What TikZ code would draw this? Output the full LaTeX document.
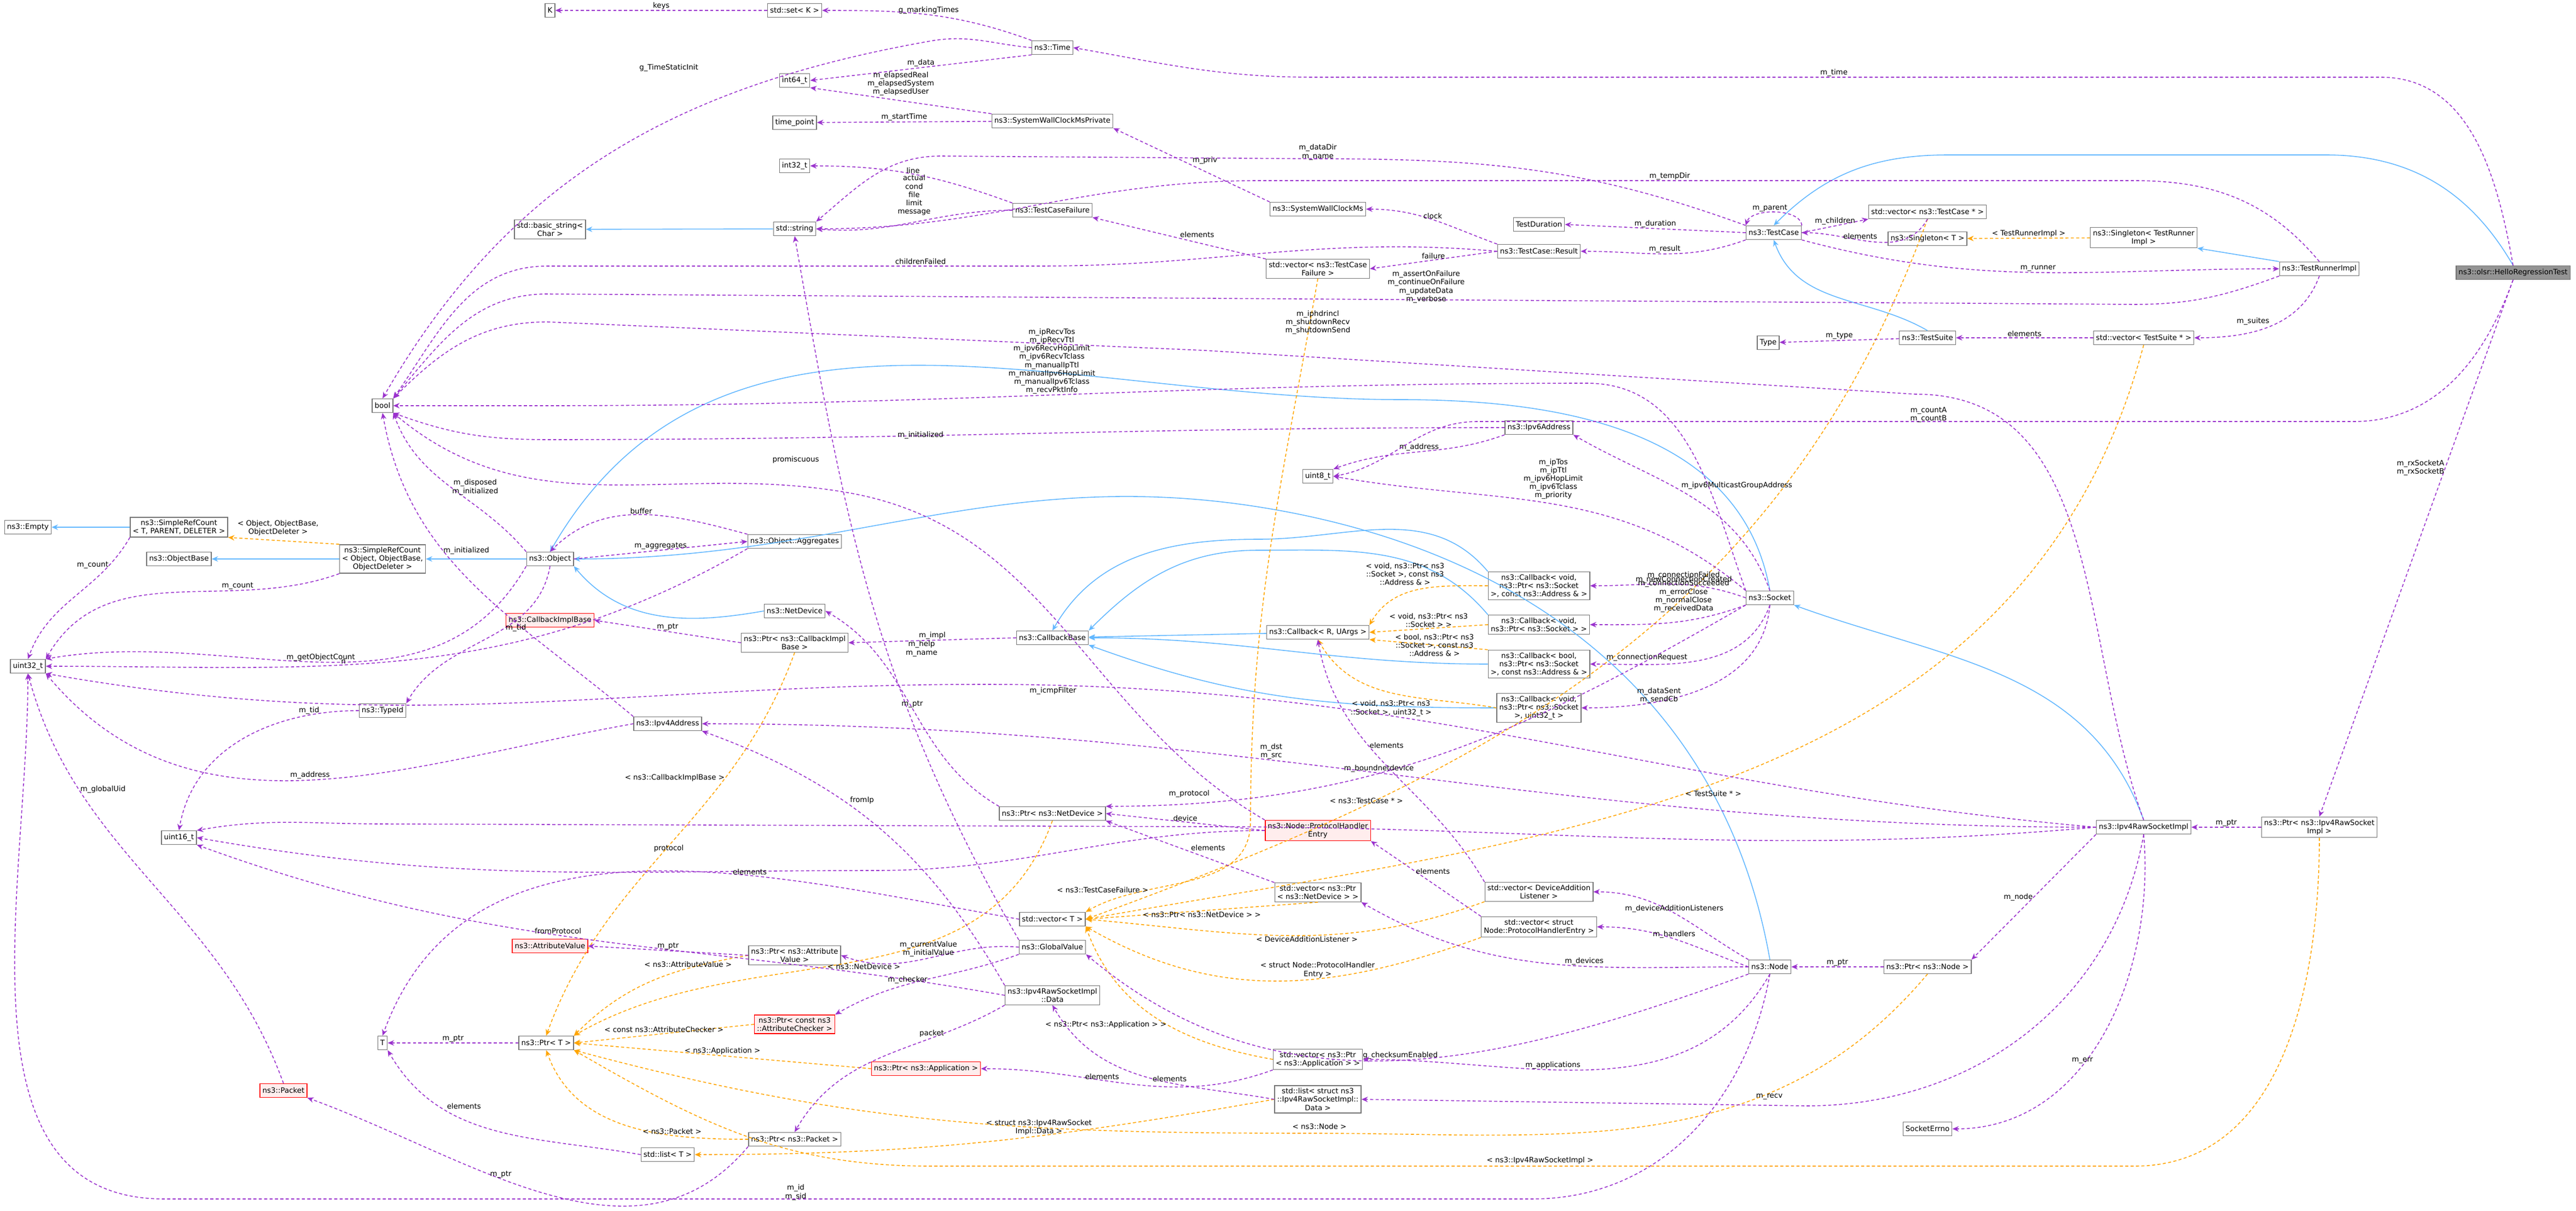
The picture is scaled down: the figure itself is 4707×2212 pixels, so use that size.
\documentclass[tikz,border=0pt]{standalone}
\usepackage{fontspec}
\setmainfont{DejaVu Sans}
\usetikzlibrary{arrows.meta}
\definecolor{puse}{HTML}{9A32CD}
\definecolor{binh}{HTML}{63B8FF}
\definecolor{otpl}{HTML}{FFA500}
\tikzset{
 box/.style={draw=black!55,fill=white,inner sep=1.3pt,minimum height=0.25cm,align=center,font=\fontsize{3.8}{4.3}\selectfont},
 redbox/.style={box,draw=red,fill=red!7},
 lbl/.style={inner sep=0.3pt,align=center,font=\fontsize{3.8}{4.3}\selectfont},
 use/.style={draw=puse,line width=0.45pt,dash pattern=on 1.6pt off 1.2pt,-{Stealth[length=3.3pt,width=2.8pt]}},
 inh/.style={draw=binh,line width=0.45pt,-{Stealth[length=3.3pt,width=2.8pt]}},
 tpl/.style={draw=otpl,line width=0.45pt,dash pattern=on 1.6pt off 1.2pt,-{Stealth[length=3.3pt,width=2.8pt]}}
}
\begin{document}
\begin{tikzpicture}[x=0.01cm,y=-0.01cm]
\useasboundingbox[fill=white] (0,0) rectangle (4707,2212);
% nodes
\node[box] (K) at (1005,19) {K};
\node[box] (setK) at (1452,19) {std::set< K >};
\node[box] (int64) at (1452,147) {int64\_t};
\node[box] (timept) at (1452,224) {time\_point};
\node[box] (int32) at (1452,303) {int32\_t};
\node[box] (bstr) at (1005,419) {std::basic\_string<\\Char >};
\node[box] (str) at (1452,418) {std::string};
\node[box] (bool) at (699,741) {bool};
\node[box] (empty) at (51,963) {ns3::Empty};
\node[box] (srcT) at (327,963) {ns3::SimpleRefCount\\< T, PARENT, DELETER >};
\node[box] (obase) at (327,1021) {ns3::ObjectBase};
\node[box] (srcO) at (699,1021) {ns3::SimpleRefCount\\< Object, ObjectBase,\\ObjectDeleter >};
\node[box] (obj) at (1005,1021) {ns3::Object};
\node[box] (aggr) at (1452,989) {ns3::Object::Aggregates};
\node[box] (time) at (1923,87) {ns3::Time};
\node[box] (swcp) at (1923,221) {ns3::SystemWallClockMsPrivate};
\node[box] (tcf) at (1923,384) {ns3::TestCaseFailure};
\node[box] (swc) at (2408,382) {ns3::SystemWallClockMs};
\node[box] (tdur) at (2812,410) {TestDuration};
\node[box] (tcres) at (2812,459) {ns3::TestCase::Result};
\node[box] (vtcf) at (2408,491) {std::vector< ns3::TestCase\\Failure >};
\node[box] (ipv6) at (2812,781) {ns3::Ipv6Address};
\node[box] (u8) at (2408,870) {uint8\_t};
\node[box] (cbA) at (2812,1070) {ns3::Callback< void,\\ns3::Ptr< ns3::Socket\\>, const ns3::Address \& >};
\node[box] (tc) at (3241,425) {ns3::TestCase};
\node[box] (vtc) at (3522,387) {std::vector< ns3::TestCase * >};
\node[box] (sgT) at (3522,436) {ns3::Singleton< T >};
\node[box] (sgR) at (3917,434) {ns3::Singleton< TestRunner\\Impl >};
\node[box] (tri) at (4238,491) {ns3::TestRunnerImpl};
\node[box,fill=black!42] (hello) at (4592,498) {ns3::olsr::HelloRegressionTest};
\node[box] (type) at (3231,626) {Type};
\node[box] (ts) at (3522,617) {ns3::TestSuite};
\node[box] (vts) at (3917,617) {std::vector< TestSuite * >};
\node[box] (sock) at (3234,1092) {ns3::Socket};
\node[box] (netdev) at (1452,1116) {ns3::NetDevice};
\node[redbox] (cib) at (1005,1133) {ns3::CallbackImplBase};
\node[box] (pcib) at (1452,1174) {ns3::Ptr< ns3::CallbackImpl\\Base >};
\node[box] (u32) at (51,1217) {uint32\_t};
\node[box] (tid) at (699,1298) {ns3::TypeId};
\node[box] (ipv4) at (1220,1322) {ns3::Ipv4Address};
\node[box] (u16) at (327,1530) {uint16\_t};
\node[redbox] (av) at (1005,1728) {ns3::AttributeValue};
\node[box] (pav) at (1452,1745) {ns3::Ptr< ns3::Attribute\\Value >};
\node[redbox] (pac) at (1452,1871) {ns3::Ptr< const ns3\\::AttributeChecker >};
\node[box] (T) at (699,1905) {T};
\node[box] (pT) at (998,1905) {ns3::Ptr< T >};
\node[redbox] (pkt) at (518,1992) {ns3::Packet};
\node[box] (ppkt) at (1452,2081) {ns3::Ptr< ns3::Packet >};
\node[box] (listT) at (1220,2109) {std::list< T >};
\node[box] (cbb) at (1923,1165) {ns3::CallbackBase};
\node[box] (cbR) at (2408,1155) {ns3::Callback< R, UArgs >};
\node[box] (cbB) at (2812,1141) {ns3::Callback< void,\\ns3::Ptr< ns3::Socket > >};
\node[box] (cbC) at (2812,1213) {ns3::Callback< bool,\\ns3::Ptr< ns3::Socket\\>, const ns3::Address \& >};
\node[box] (cbD) at (2812,1293) {ns3::Callback< void,\\ns3::Ptr< ns3::Socket\\>, uint32\_t >};
\node[box] (pnd) at (1923,1486) {ns3::Ptr< ns3::NetDevice >};
\node[redbox] (phe) at (2408,1517) {ns3::Node::ProtocolHandler\\Entry};
\node[box] (vpnd) at (2408,1630) {std::vector< ns3::Ptr\\< ns3::NetDevice > >};
\node[box] (vdal) at (2812,1629) {std::vector< DeviceAddition\\Listener >};
\node[box] (vT) at (1923,1679) {std::vector< T >};
\node[box] (vphe) at (2812,1693) {std::vector< struct\\Node::ProtocolHandlerEntry >};
\node[box] (gv) at (1923,1730) {ns3::GlobalValue};
\node[box] (data) at (1923,1818) {ns3::Ipv4RawSocketImpl\\::Data};
\node[box] (vpapp) at (2408,1935) {std::vector< ns3::Ptr\\< ns3::Application > >};
\node[redbox] (papp) at (1692,1952) {ns3::Ptr< ns3::Application >};
\node[box] (ldata) at (2408,2008) {std::list< struct ns3\\::Ipv4RawSocketImpl::\\Data >};
\node[box] (rsi) at (3917,1511) {ns3::Ipv4RawSocketImpl};
\node[box] (prsi) at (4238,1511) {ns3::Ptr< ns3::Ipv4RawSocket\\Impl >};
\node[box] (node) at (3234,1766) {ns3::Node};
\node[box] (pnode) at (3522,1766) {ns3::Ptr< ns3::Node >};
\node[box] (serr) at (3522,2062) {SocketErrno};

% inheritance
\draw[inh] (str) -- (bstr);
\draw[inh] (srcT) -- (empty);
\draw[inh] (srcO) -- (obase);
\draw[inh] (obj) -- (srcO);
\draw[inh] (netdev.west) to[out=190,in=-50] (obj.south east);
\draw[inh] (sock.north) to[out=100,in=0] (2560,730) to[out=180,in=60] (obj.north);
\draw[inh] (node.north) to[out=100,in=-10] (2330,931) to[out=170,in=0] (obj.east);
\draw[inh] (hello.north) to[out=120,in=0] (4250,283) -- (3560,283) to[out=180,in=45] (tc.north);
\draw[inh] (ts.north) to[out=150,in=-70] (tc.south);
\draw[inh] (tri.north west) -- (sgR.south east);
\draw[inh] (cbR) -- (cbb);
\draw[inh] (cbA.north west) to[out=130,in=0] (2300,985) to[out=180,in=60] (cbb.north);
\draw[inh] (cbB.north west) to[out=130,in=0] (2300,1005) to[out=180,in=45] (cbb.north east);
\draw[inh] (cbC.west) to[out=180,in=0] (cbb.east);
\draw[inh] (cbD.west) to[out=180,in=-20] (cbb.south east);
\draw[inh] (rsi.north) to[out=110,in=-20] (sock.south east);

% template instantiation
\draw[tpl] (srcO.north west) -- node[lbl,pos=0.55,above=2pt]{< Object, ObjectBase,\\ObjectDeleter >} (srcT.south east);
\draw[tpl] (sgR) -- node[lbl,above]{< TestRunnerImpl >} (sgT);
\draw[tpl] (cbA.west) to[out=180,in=60] node[lbl,pos=0.3,above left]{< void, ns3::Ptr< ns3\\::Socket >, const ns3\\::Address \& >} (cbR.north east);
\draw[tpl] (cbB.west) -- node[lbl,above]{< void, ns3::Ptr< ns3\\::Socket > >} (cbR.east);
\draw[tpl] (cbC.north west) -- node[lbl,pos=0.45]{< bool, ns3::Ptr< ns3\\::Socket >, const ns3\\::Address \& >} (cbR.south east);
\draw[tpl] (cbD.west) to[out=170,in=-60] node[lbl,pos=0.3,below left]{< void, ns3::Ptr< ns3\\::Socket >, uint32\_t >} (cbR.south);
\draw[tpl] (pcib.south) to[out=-110,in=70] node[lbl,pos=0.3,left]{< ns3::CallbackImplBase >} (pT.north);
\draw[tpl] (pav.west) to[out=190,in=45] node[lbl,pos=0.3,above]{< ns3::AttributeValue >} (pT.north east);
\draw[tpl] (pnd.south) to[out=-110,in=30] node[lbl,pos=0.55,right]{< ns3::NetDevice >} (pT.north east);
\draw[tpl] (pac.west) -- node[lbl,above]{< const ns3::AttributeChecker >} (pT.east);
\draw[tpl] (papp.west) -- node[lbl,above]{< ns3::Application >} (pT.east);
\draw[tpl] (ppkt.west) to[out=180,in=-70] node[lbl,pos=0.3,above]{< ns3::Packet >} (pT.south);
\draw[tpl] (pnode.south) to[out=-130,in=0] (2400,2070) to[out=180,in=-15] (pT.south east);
\node[lbl] (l_nodeT) at (2411,2058) {< ns3::Node >};
\draw[tpl] (prsi.south) to[out=-90,in=0] (3900,2130) -- (1700,2130) to[out=180,in=-30] (pT.south east);
\node[lbl] (l_rsiT) at (2814,2120) {< ns3::Ipv4RawSocketImpl >};
\draw[tpl] (ldata.west) to[out=190,in=0] node[lbl,pos=0.4,above]{< struct ns3::Ipv4RawSocket\\Impl::Data >} (listT.east);
\draw[tpl] (vtcf.south) to[out=-100,in=90] (2285,1500) to[out=-90,in=30] node[lbl,pos=0.7,left]{< ns3::TestCaseFailure >} (vT.north east);
\draw[tpl] (vtc.south) to[out=-110,in=20] node[lbl,pos=0.75,above]{< ns3::TestCase * >} (vT.east);
\draw[tpl] (vts.south) to[out=-105,in=10] node[lbl,pos=0.55,right]{< TestSuite * >} (vT.east);
\draw[tpl] (vpnd.south) -- node[lbl,below]{< ns3::Ptr< ns3::NetDevice > >} (vT.east);
\draw[tpl] (vdal.south west) to[out=200,in=-5] node[lbl,pos=0.45,below]{< DeviceAdditionListener >} (vT.east);
\draw[tpl] (vphe.south west) to[out=200,in=-30] node[lbl,pos=0.4,above]{< struct Node::ProtocolHandler\\Entry >} (vT.south east);
\draw[tpl] (vpapp.west) to[out=170,in=-70] node[lbl,pos=0.45,left]{< ns3::Ptr< ns3::Application > >} (vT.south east);

% usage
\draw[use] (setK) -- node[lbl,above]{keys} (K);
\draw[use] (time.north west) to[out=160,in=0] node[lbl,above]{g\_markingTimes} (setK.east);
\draw[use] (time.west) to[out=175,in=10] (1700,75) to[out=190,in=60] (bool.north);
\node[lbl] (l_gts) at (1222,124) {g\_TimeStaticInit};
\draw[use] (time.south west) -- node[lbl,above]{m\_data} (int64.east);
\draw[use] (swcp.north west) -- node[lbl,pos=0.5,above=2pt]{m\_elapsedReal\\m\_elapsedSystem\\m\_elapsedUser} (int64.south east);
\draw[use] (swcp) -- node[lbl,above]{m\_startTime} (timept);
\draw[use] (swc.north west) -- node[lbl,above right]{m\_priv} (swcp.south east);
\draw[use] (tcf.north west) to[out=160,in=0] node[lbl,pos=0.5,above]{line} (int32.east);
\draw[use] (tcf.west) to[out=180,in=-5] node[lbl,pos=0.5,above=3pt]{actual\\cond\\file\\limit\\message} (str.east);
\draw[use] (tc.north west) to[out=160,in=0] (2400,290) -- (1720,285) to[out=180,in=40] (str.north east);
\node[lbl] (l_dd) at (2408,278) {m\_dataDir\\m\_name};
\draw[use] (tri.north) to[out=130,in=0] (3900,330) -- (2300,330) to[out=180,in=0] (str.east);
\node[lbl] (l_td) at (3051,322) {m\_tempDir};
\draw[use] (vtcf.north west) -- node[lbl,above right]{elements} (tcf.south east);
\draw[use] (tcres.north west) to[out=160,in=0] node[lbl,above]{clock} (swc.east);
\draw[use] (tcres.west) -- node[lbl,above]{failure} (vtcf.east);
\draw[use] (tcres.west) to[out=175,in=0] (1900,486) -- (1000,486) to[out=180,in=55] (bool.north east);
\node[lbl] (l_cf) at (1682,478) {childrenFailed};
\draw[use] (tc.west) -- node[lbl,above]{m\_duration} (tdur.east);
\draw[use] (tc.south west) to[out=200,in=0] node[lbl,above]{m\_result} (tcres.east);
\draw[use] (tc.north east) .. controls (3290,380) and (3200,380) .. (tc.north west);
\node[lbl] (l_par) at (3234,380) {m\_parent};
\draw[use] (tc.east) -- node[lbl,above]{m\_children} (vtc.south west);
\draw[use] (vtc.south) to[out=-120,in=0] node[lbl,pos=0.6,above]{elements} (tc.east);
\draw[use] (tc.south east) to[out=-15,in=180] node[lbl,above]{m\_runner} (tri.west);
\draw[use] (tri.south west) to[out=200,in=0] (3900,556) -- (1000,537) to[out=180,in=50] (bool.north east);
\node[lbl] (l_aof) at (2606,524) {m\_assertOnFailure\\m\_continueOnFailure\\m\_updateData\\m\_verbose};
\draw[use] (tri.south) to[out=-110,in=0] node[lbl,above left]{m\_suites} (vts.east);
\draw[use] (vts) -- node[lbl,above]{elements} (ts);
\draw[use] (ts) -- node[lbl,above]{m\_type} (type);
\draw[use] (rsi.north) to[out=110,in=0] (3500,720) -- (2200,640) -- (1000,588) to[out=180,in=45] (bool.north east);
\node[lbl] (l_iph) at (2408,589) {m\_iphdrincl\\m\_shutdownRecv\\m\_shutdownSend};
\draw[use] (sock.north west) to[out=110,in=0] (2900,700) to[out=180,in=0] (1000,741) -- (bool.east);
\node[lbl] (l_rtos) at (1922,660) {m\_ipRecvTos\\m\_ipRecvTtl\\m\_ipv6RecvHopLimit\\m\_ipv6RecvTclass\\m\_manualIpTtl\\m\_manualIpv6HopLimit\\m\_manualIpv6Tclass\\m\_recvPktInfo};
\draw[use] (ipv6.west) to[out=180,in=0] (1000,803) to[out=180,in=-20] (bool.south east);
\node[lbl] (l_i6i) at (1682,795) {m\_initialized};
\draw[use] (ipv6.south west) to[out=200,in=20] node[lbl,above]{m\_address} (u8.north east);
\draw[use] (hello.south) to[out=-110,in=0] (4300,770) -- (2700,770) to[out=180,in=10] (u8.east);
\node[lbl] (l_cnt) at (3524,758) {m\_countA\\m\_countB};
\draw[use] (sock.north) to[out=110,in=-30] node[lbl,pos=0.55,above right]{m\_ipv6MulticastGroupAddress} (ipv6.south east);
\draw[use] (sock.north west) to[out=140,in=-10] node[lbl,pos=0.5,above=2pt]{m\_ipTos\\m\_ipTtl\\m\_ipv6HopLimit\\m\_ipv6Tclass\\m\_priority} (u8.east);
\draw[use] (hello.north) to[out=100,in=0] (4350,141) -- (2400,141) to[out=180,in=-10] (time.east);
\node[lbl] (l_time) at (3351,133) {m\_time};
\draw[use] (sock.west) to[out=160,in=0] node[lbl,pos=0.4,above]{m\_newConnectionCreated} (cbA.east);
\draw[use] (sock.south west) to[out=200,in=0] node[lbl,pos=0.4,above=4pt]{m\_connectionFailed\\m\_connectionSucceeded\\m\_errorClose\\m\_normalClose\\m\_receivedData} (cbB.east);
\draw[use] (sock.south) to[out=-110,in=0] node[lbl,pos=0.55,above left]{m\_connectionRequest} (cbC.east);
\draw[use] (sock.south) to[out=-95,in=0] node[lbl,pos=0.6,left]{m\_dataSent\\m\_sendCb} (cbD.east);
\draw[use] (obj.north west) to[out=130,in=-70] node[lbl,pos=0.5,right]{m\_disposed\\m\_initialized} (bool.south east);
\draw[use] (ipv4.north west) to[out=140,in=-80] (bool.south);
\node[lbl] (l_v4i) at (852,1006) {m\_initialized};
\draw[use] (obj.east) -- node[lbl,above]{m\_aggregates} (aggr.west);
\draw[use] (aggr.north west) to[out=165,in=45] node[lbl,above]{buffer} (obj.north);
\draw[use] (srcT.south west) to[out=-120,in=70] node[lbl,pos=0.2,left]{m\_count} (u32.north);
\draw[use] (srcO.south west) to[out=200,in=60] node[lbl,pos=0.3,above]{m\_count} (u32.north east);
\draw[use] (phe.north west) to[out=150,in=-10] (1550,900) to[out=170,in=-40] (bool.south east);
\node[lbl] (l_prom) at (1454,840) {promiscuous};
\draw[use] (obj.south west) to[out=-120,in=10] node[lbl,pos=0.5,above]{m\_getObjectCount} (u32.north east);
\draw[use] (aggr.south west) to[out=-150,in=0] node[lbl,pos=0.6,above]{n} (u32.east);
\draw[use] (obj.south) to[out=-100,in=60] node[lbl,pos=0.4,right]{m\_tid} (tid.north east);
\draw[use] (tid.west) to[out=180,in=80] node[lbl,pos=0.2,above]{m\_tid} (u16.north);
\draw[use] (rsi.west) to[out=175,in=0] (1800,1250) to[out=180,in=-10] (u32.south east);
\node[lbl] (l_icmp) at (1924,1262) {m\_icmpFilter};
\draw[use] (ipv4.west) to[out=190,in=-50] node[lbl,pos=0.5,above]{m\_address} (u32.south east);
\draw[use] (pkt.north) to[out=110,in=-75] node[lbl,pos=0.75,right]{m\_globalUid} (u32.south);
\draw[use] (node.south) to[out=-100,in=0] (2800,2190) -- (300,2190) to[out=180,in=-90] (u32.south);
\node[lbl] (l_id) at (1454,2178) {m\_id\\m\_sid};
\draw[use] (pcib.west) -- node[lbl,above]{m\_ptr} (cib.east);
\draw[use] (cbb.west) -- node[lbl,above]{m\_impl} (pcib.east);
\draw[use] (rsi.west) to[out=180,in=0] node[lbl,pos=0.6,above]{m\_dst\\m\_src} (ipv4.east);
\draw[use] (data.north west) to[out=120,in=-20] node[lbl,pos=0.6,above right]{fromIp} (ipv4.south east);
\draw[use] (phe.west) to[out=180,in=0] (1600,1590) to[out=180,in=-10] (u16.east);
\node[lbl] (l_prot) at (1222,1550) {protocol};
\draw[use] (rsi.west) to[out=185,in=0] (2200,1510) -- (700,1505) to[out=180,in=10] (u16.north east);
\node[lbl] (l_mprot) at (2173,1450) {m\_protocol};
\draw[use] (data.west) to[out=170,in=-20] node[lbl,pos=0.55,above]{fromProtocol} (u16.south east);
\draw[use] (vT.west) to[out=170,in=70] node[lbl,pos=0.35,above]{elements} (T.north);
\draw[use] (pav.west) -- node[lbl,above]{m\_ptr} (av.east);
\draw[use] (gv.west) to[out=175,in=-20] node[lbl,pos=0.5,above]{m\_currentValue\\m\_initialValue} (pav.east);
\draw[use] (gv.south west) to[out=200,in=30] node[lbl,pos=0.6,above]{m\_checker} (pac.north east);
\draw[use] (gv.north west) to[out=120,in=-80] (str.south);
\node[lbl] (l_help) at (1684,1185) {m\_help\\m\_name};
\draw[use] (pT) -- node[lbl,above]{m\_ptr} (T);
\draw[use] (listT.west) to[out=170,in=-60] node[lbl,pos=0.7,above right]{elements} (T.south east);
\draw[use] (ppkt.south west) to[out=-130,in=-20] node[lbl,pos=0.6,above]{m\_ptr} (pkt.south east);
\draw[use] (data.south west) to[out=-150,in=60] node[lbl,pos=0.3,above]{packet} (ppkt.north);
\draw[use] (pnd.north west) to[out=150,in=-30] node[lbl,pos=0.5,above]{m\_ptr} (netdev.east);
\draw[use] (phe.west) -- node[lbl,above]{device} (pnd.east);
\draw[use] (sock.south west) to[out=-150,in=0] node[lbl,pos=0.6,above]{m\_boundnetdevice} (pnd.north east);
\draw[use] (vpnd.north west) -- node[lbl,above right]{elements} (pnd.south east);
\draw[use] (vphe.north west) -- node[lbl,pos=0.6,right]{elements} (phe.south east);
\draw[use] (vdal.north west) to[out=120,in=-80] node[lbl,pos=0.6,right]{elements} (cbR.south);
\draw[use] (node.north west) to[out=150,in=0] node[lbl,above]{m\_deviceAdditionListeners} (vdal.east);
\draw[use] (node.west) to[out=160,in=0] node[lbl,above]{m\_handlers} (vphe.east);
\draw[use] (node.west) to[out=180,in=-30] node[lbl,pos=0.4,above]{m\_devices} (vpnd.south east);
\draw[use] (node.south west) to[out=200,in=-40] node[lbl,pos=0.5,above]{g\_checksumEnabled} (gv.south east);
\draw[use] (node.south) to[out=-120,in=0] node[lbl,pos=0.6,above]{m\_applications} (vpapp.east);
\draw[use] (vpapp.south west) to[out=-160,in=0] node[lbl,pos=0.6,above]{elements} (papp.east);
\draw[use] (ldata.west) to[out=170,in=-60] node[lbl,pos=0.4,above]{elements} (data.south);
\draw[use] (rsi.south) to[out=-100,in=0] (3300,2020) -- (ldata.east);
\node[lbl] (l_recv) at (3233,2003) {m\_recv};
\draw[use] (rsi.south west) -- node[lbl,left]{m\_node} (pnode.north east);
\draw[use] (pnode) -- node[lbl,above]{m\_ptr} (node);
\draw[use] (rsi.south) to[out=-85,in=0] node[lbl,pos=0.6,above]{m\_err} (serr.east);
\draw[use] (prsi) -- node[lbl,above]{m\_ptr} (rsi);
\draw[use] (hello.south) -- node[lbl,pos=0.35,left]{m\_rxSocketA\\m\_rxSocketB} (prsi.north);
\end{tikzpicture}
\end{document}
